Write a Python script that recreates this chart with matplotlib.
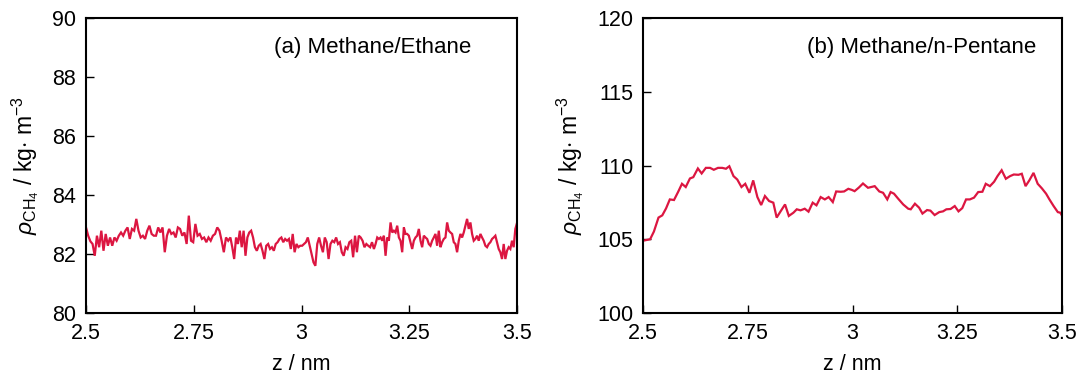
import numpy as np
import matplotlib
matplotlib.use("Agg")
import matplotlib.pyplot as plt

plt.rcParams['font.family'] = ['Liberation Sans', 'DejaVu Sans']
plt.rcParams['mathtext.fontset'] = 'custom'
plt.rcParams['mathtext.rm'] = 'Liberation Sans'
plt.rcParams['mathtext.it'] = 'Liberation Sans:italic'
plt.rcParams['mathtext.bf'] = 'Liberation Sans:bold'

LINE_COLOR = '#dc1641'

# (a) methane density profile in the methane/ethane system
rho_a_seg1 = [82.90, 82.62, 82.43, 82.34, 81.94, 82.62, 82.23, 82.79, 82.11, 82.68,
              82.28, 82.56, 82.28, 82.56, 82.45, 82.62, 82.73, 82.62, 82.79, 82.90,
              82.51, 82.85, 82.79, 83.19, 82.79, 82.56, 82.62, 82.51, 82.79, 82.96,
              82.68, 82.62, 82.62, 82.90, 82.73, 82.90, 82.06, 82.62, 82.85, 82.68,
              82.73, 82.56, 82.90, 82.85, 82.62, 82.73, 82.34, 83.30, 82.45, 82.40,
              83.02, 82.62, 82.68, 82.51, 82.56, 82.40, 82.56, 82.45, 82.62, 82.68,
              82.90, 82.79, 82.45, 82.06, 82.56, 82.45]
rho_a_seg2 = [82.56, 82.23, 81.83, 82.56, 82.34, 82.79, 82.23, 82.79, 81.94, 82.56,
              82.73, 82.79, 82.56, 82.23, 82.11, 82.28, 82.34, 82.11, 81.83, 82.28,
              82.34, 82.17, 82.23, 82.11, 82.34, 82.40, 82.51, 82.56, 82.40, 82.51,
              82.45, 82.51, 82.17, 82.68, 82.06, 82.34, 82.23, 82.28, 82.28, 82.34,
              82.40, 82.56, 82.28, 82.00, 81.72, 81.60, 82.34, 82.56, 82.28, 82.06,
              82.56, 82.40, 81.83, 82.34, 82.45, 82.40, 82.56, 82.34, 82.40, 82.06,
              81.94, 82.23, 82.17, 82.40, 82.45, 81.89, 82.62, 82.06, 82.62, 82.56,
              82.45, 82.23, 82.34, 82.28, 82.23, 82.40]
rho_a_seg3 = [82.17, 82.34, 82.56, 82.51, 82.56, 82.45, 82.62, 81.94, 82.56, 82.45,
              83.07, 82.73, 82.79, 82.73, 82.96, 82.56, 82.45, 82.06, 82.90, 82.68,
              82.68, 82.62, 82.40, 82.17, 82.45, 82.56, 82.62, 82.85, 82.45, 82.23,
              82.62, 82.56, 82.51, 82.34, 82.28, 82.45, 82.56, 82.68, 82.28, 82.79,
              82.23, 82.40, 82.51, 82.56, 83.07, 82.79, 82.73, 82.68, 82.40, 82.34,
              82.06, 82.45, 82.68, 82.56, 82.73, 82.96, 83.19, 82.85, 83.07, 82.68,
              82.45, 82.51, 82.62, 82.45, 82.68, 82.56, 82.45, 82.28, 82.23, 82.34,
              82.40, 82.51, 82.56, 82.62, 82.40, 82.17, 82.06, 81.83, 82.34, 81.83,
              82.11, 82.23, 82.17, 82.45, 82.23, 82.85, 83.05]
# sampling windows (nm) of the three stretches of profile (a)
z_a_windows = [(2.500, 2.835), (2.835, 3.168), (3.168, 3.500)]

# (b) methane density profile in the methane/n-pentane system
z_b = [2.500, 2.517, 2.526, 2.537, 2.546, 2.555, 2.564, 2.574, 2.584, 2.593,
       2.602, 2.612, 2.620, 2.631, 2.640, 2.650, 2.660, 2.669, 2.679, 2.689,
       2.698, 2.706, 2.716, 2.725, 2.735, 2.744, 2.754, 2.763, 2.773, 2.782,
       2.791, 2.801, 2.811, 2.819, 2.829, 2.839, 2.848, 2.859, 2.867, 2.876,
       2.886, 2.895, 2.905, 2.914, 2.924, 2.934, 2.943, 2.953, 2.961, 2.972,
       2.980, 2.990, 2.998, 3.005, 3.015, 3.025, 3.037, 3.046, 3.053, 3.064,
       3.073, 3.083, 3.091, 3.099, 3.109, 3.121, 3.133, 3.139, 3.149, 3.159,
       3.167, 3.178, 3.186, 3.196, 3.207, 3.216, 3.224, 3.234, 3.244, 3.253,
       3.262, 3.271, 3.280, 3.290, 3.300, 3.310, 3.318, 3.328, 3.338, 3.346,
       3.356, 3.366, 3.376, 3.385, 3.396, 3.404, 3.413, 3.422, 3.432, 3.442,
       3.452, 3.462, 3.470, 3.480, 3.490, 3.496, 3.500]
rho_b = [104.90, 105.00, 105.52, 106.47, 106.62, 107.09, 107.70, 107.66, 108.22, 108.76,
         108.54, 109.12, 109.21, 109.80, 109.46, 109.84, 109.84, 109.71, 109.84, 109.84,
         109.78, 109.95, 109.28, 109.05, 108.54, 108.76, 108.15, 108.99, 107.86, 107.32,
         107.93, 107.59, 107.48, 106.47, 106.92, 107.36, 106.58, 106.80, 107.03, 106.96,
         107.07, 106.87, 107.48, 107.30, 107.86, 107.70, 107.86, 107.52, 108.24, 108.22,
         108.24, 108.42, 108.35, 108.26, 108.50, 108.78, 108.49, 108.55, 108.60, 108.24,
         108.15, 107.70, 108.20, 108.09, 107.75, 107.36, 107.07, 107.03, 107.41, 107.14,
         106.74, 106.98, 106.94, 106.64, 106.84, 106.89, 107.03, 107.05, 107.25, 106.89,
         107.11, 107.70, 107.70, 107.82, 108.20, 108.22, 108.76, 108.60, 108.90, 109.28,
         109.68, 109.10, 109.28, 109.39, 109.37, 109.44, 108.60, 108.99, 109.50, 108.76,
         108.45, 108.09, 107.70, 107.25, 106.84, 106.80, 106.60]

x_ticks = [2.5, 2.75, 3.0, 3.25, 3.5]
x_tick_labels = ['2.5', '2.75', '3', '3.25', '3.5']
y_ticks_a = [80, 82, 84, 86, 88, 90]
y_ticks_b = [100, 105, 110, 115, 120]
titles = ['(a) Methane/Ethane', '(b) Methane/n-Pentane']

# assemble profile (a) from its three stretches
segments = [rho_a_seg1, rho_a_seg2, rho_a_seg3]
z_a = np.concatenate([np.linspace(lo, hi, len(seg), endpoint=(i == 2))
                      for i, ((lo, hi), seg) in enumerate(zip(z_a_windows, segments))])
rho_a = np.concatenate(segments)

W, H = 1084, 376
fig = plt.figure(figsize=(W / 100, H / 100), dpi=100)
ax_a = fig.add_axes([86 / W, 1 - 313 / H, 431 / W, 295 / H])
ax_b = fig.add_axes([643 / W, 1 - 313 / H, 419 / W, 295 / H])

ylabel = r'$\rho_{\mathrm{CH_4}}$ / kg$\cdot$ m$^{\mathrm{-3}}$'

for ax, z, rho, yt, title in [(ax_a, z_a, rho_a, y_ticks_a, titles[0]),
                              (ax_b, z_b, rho_b, y_ticks_b, titles[1])]:
    ax.plot(z, rho, color=LINE_COLOR, lw=1.6, solid_joinstyle='miter')
    ax.set_xlim(2.5, 3.5)
    ax.set_ylim(yt[0], yt[-1])
    ax.set_xticks(x_ticks)
    ax.set_xticklabels(x_tick_labels)
    ax.set_yticks(yt)
    ax.tick_params(direction='in', length=6, width=1, labelsize=15.5, pad=7,
                   top=False, right=False)
    for s in ax.spines.values():
        s.set_linewidth(1.5)
    ax.set_xlabel('z / nm', fontsize=15.5, labelpad=7.5)
    ax.set_ylabel(ylabel, fontsize=16.5, labelpad=8)
    ax.text(0.665, 0.9, title, transform=ax.transAxes, ha='center', va='center',
            fontsize=16)

fig.savefig('out.png', dpi=100)
